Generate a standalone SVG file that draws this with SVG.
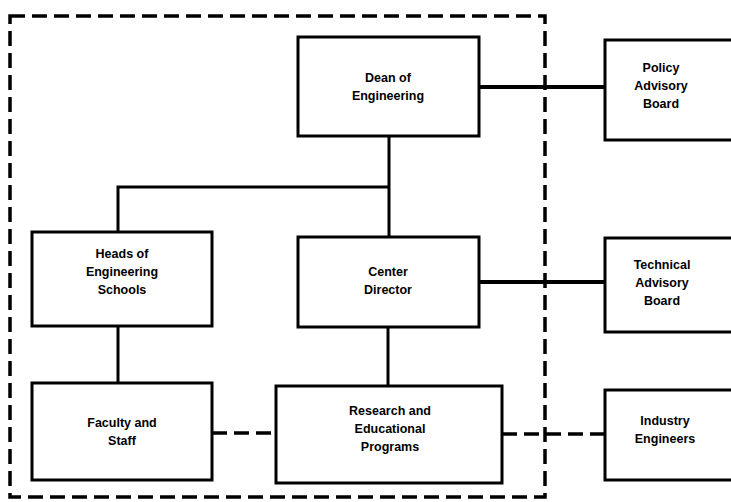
<svg xmlns="http://www.w3.org/2000/svg" width="731" height="502" viewBox="0 0 731 502">
<style>
.box{fill:#fff;stroke:#000;stroke-width:3}
.lbl{font-family:"Liberation Sans",Arial,sans-serif;font-size:12.5px;font-weight:bold;text-anchor:middle;fill:#000}
.solid{stroke:#000;stroke-width:3;fill:none}
.thick{stroke:#000;stroke-width:4;fill:none}
.dash{stroke:#000;stroke-width:3.5;fill:none;stroke-dasharray:15 7}
</style>
<rect width="731" height="502" fill="#fff"/>
<g id="boundary">
<rect x="10" y="16" width="535" height="481" class="dash"/>
</g>
<g id="connectors">
<line x1="479" y1="87" x2="605" y2="87" class="thick"/>
<line x1="389" y1="136" x2="389" y2="237" class="solid"/>
<polyline points="389,187 118,187 118,232" class="solid"/>
<line x1="479" y1="282" x2="605" y2="282" class="thick"/>
<line x1="118" y1="326" x2="118" y2="383" class="solid"/>
<line x1="388" y1="327" x2="388" y2="386" class="solid"/>
<line x1="212" y1="433" x2="276" y2="433" class="dash"/>
<line x1="502" y1="434" x2="605" y2="434" class="dash"/>
</g>
<g id="dean">
<rect x="298" y="37" width="181" height="99" class="box"/>
<text class="lbl" x="388" y="82">Dean of</text>
<text class="lbl" x="388" y="100">Engineering</text>
</g>
<g id="policy">
<rect x="605" y="40" width="140" height="100" class="box"/>
<text class="lbl" x="661" y="72">Policy</text>
<text class="lbl" x="661" y="90">Advisory</text>
<text class="lbl" x="661" y="108">Board</text>
</g>
<g id="heads">
<rect x="32" y="232" width="180" height="94" class="box"/>
<text class="lbl" x="122" y="258">Heads of</text>
<text class="lbl" x="122" y="276">Engineering</text>
<text class="lbl" x="122" y="294">Schools</text>
</g>
<g id="center">
<rect x="298" y="237" width="181" height="90" class="box"/>
<text class="lbl" x="388" y="276">Center</text>
<text class="lbl" x="388" y="294">Director</text>
</g>
<g id="technical">
<rect x="605" y="238" width="140" height="94" class="box"/>
<text class="lbl" x="662" y="269">Technical</text>
<text class="lbl" x="662" y="287">Advisory</text>
<text class="lbl" x="662" y="305">Board</text>
</g>
<g id="faculty">
<rect x="32" y="383" width="180" height="97" class="box"/>
<text class="lbl" x="122" y="427">Faculty and</text>
<text class="lbl" x="122" y="445">Staff</text>
</g>
<g id="research">
<rect x="276" y="386" width="226" height="97" class="box"/>
<text class="lbl" x="390" y="415">Research and</text>
<text class="lbl" x="390" y="433">Educational</text>
<text class="lbl" x="390" y="451">Programs</text>
</g>
<g id="industry">
<rect x="605" y="390" width="140" height="90" class="box"/>
<text class="lbl" x="665" y="425">Industry</text>
<text class="lbl" x="665" y="443">Engineers</text>
</g>
</svg>
